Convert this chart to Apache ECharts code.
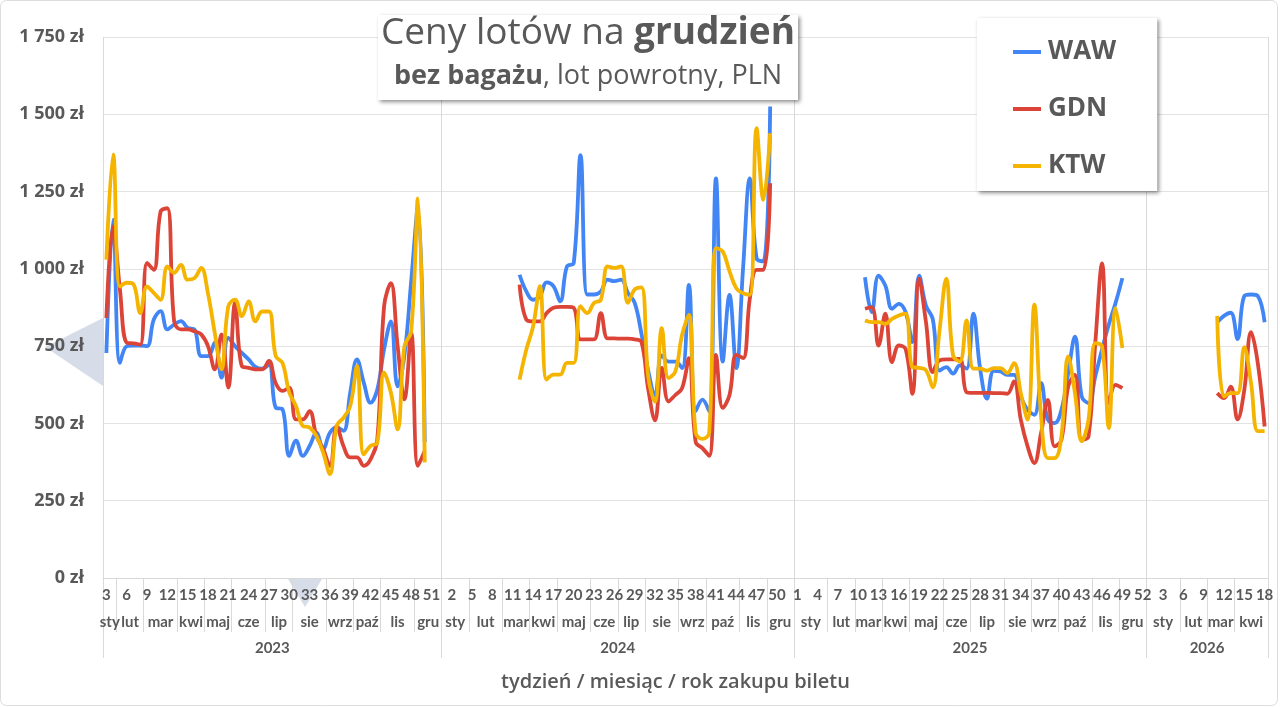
<!DOCTYPE html>
<html>
<head>
<meta charset="utf-8">
<script src="https://cdn.jsdelivr.net/npm/echarts@6/dist/echarts.min.js"></script>
<style>
html, body { margin: 0; padding: 0; background: #fff; }
#chart { width: 1280px; height: 707px; }
</style>
</head>
<body>
<div id="chart"></div>
<script>
// lata i zakres tygodni na osi
var years = [2023, 2024, 2025, 2026];
var firstWeek = [3, 1, 1, 1];
var lastWeek = [52, 52, 52, 18];

// miesiace - ile tygodni w kazdym miesiacu (wg czwartku tygodnia ISO)
var monthNames = ['sty', 'lut', 'mar', 'kwi', 'maj', 'cze', 'lip', 'sie', 'wrz', 'paź', 'lis', 'gru'];
var monthWeeks2023 = [2, 4, 5, 4, 4, 5, 4, 5, 4, 4, 5, 4];
var monthWeeks2024 = [4, 5, 4, 4, 5, 4, 4, 5, 4, 5, 4, 4];
var monthWeeks2025 = [5, 4, 4, 4, 5, 4, 5, 4, 4, 5, 4, 4];
var monthWeeks2026 = [5, 4, 4, 5];

var N = null;
// WAW
var waw2023 = [728,1159,696,750,752,752,750,836,863,804,820,831,809,804,718,718,761,648,777,750,728,707,683,677,690,551,546,395,444,395,427,470,417,470,487,476,600,707,632,567,610,740,830,620,720,960,1200,440,N,N];
var waw2024 = [N,N,N,N,N,N,N,N,N,N,N,981,927,900,911,956,944,895,1008,1019,1368,917,917,927,965,960,965,922,890,790,670,590,720,700,700,679,948,540,577,539,1293,700,916,679,1002,1293,1034,1024,1525,N,N,N];
var waw2025 = [N,N,N,N,N,N,N,N,N,N,973,860,978,946,871,887,860,763,978,881,838,671,682,661,688,677,855,677,580,670,668,657,657,587,544,528,630,512,501,544,663,781,587,566,652,740,820,890,970,N,N,N];
var waw2026 = [N,N,N,N,N,N,N,N,N,N,827,848,858,773,912,917,912,827];
// GDN
var gdn2023 = [841,1137,933,761,759,755,1019,997,1185,1196,831,804,804,798,788,750,675,788,616,890,685,680,675,675,702,630,605,616,513,513,540,460,417,363,492,427,390,390,363,384,449,879,954,750,578,793,363,411,N,N];
var gdn2024 = [N,N,N,N,N,N,N,N,N,N,N,949,836,830,830,857,874,877,877,874,772,772,772,857,775,775,774,774,772,763,610,510,680,571,592,614,711,440,420,395,722,550,592,722,711,905,997,997,1277,N,N,N];
var gdn2025 = [N,N,N,N,N,N,N,N,N,N,871,876,752,855,698,752,741,596,968,828,666,704,707,707,709,601,599,599,599,598,598,596,636,512,426,372,469,576,426,447,620,657,447,458,760,1018,566,625,614,N,N,N];
var gdn2026 = [N,N,N,N,N,N,N,N,N,N,598,582,619,513,608,795,694,490];
// KTW
var ktw2023 = [1030,1370,943,955,950,857,943,922,900,1008,987,1013,965,970,1003,920,793,675,879,900,847,895,830,862,862,718,696,600,556,492,487,460,406,336,492,518,556,685,400,427,438,664,600,481,750,798,1228,374,N,N];
var ktw2024 = [N,N,N,N,N,N,N,N,N,N,N,642,739,814,944,642,658,658,696,696,879,857,890,900,1008,1003,1008,890,933,940,650,570,808,647,668,787,851,470,450,470,1067,1056,992,937,921,916,1455,1223,1439,N,N,N];
var ktw2025 = [N,N,N,N,N,N,N,N,N,N,833,828,828,822,838,849,855,682,680,672,617,800,968,720,700,833,677,677,671,679,679,663,695,598,512,884,523,388,388,458,717,598,442,512,760,749,485,873,744,N,N,N];
var ktw2026 = [N,N,N,N,N,N,N,N,N,N,848,587,598,598,747,630,475,475];

var waw = waw2023.concat(waw2024, waw2025, waw2026);
var gdn = gdn2023.concat(gdn2024, gdn2025, gdn2026);
var ktw = ktw2023.concat(ktw2024, ktw2025, ktw2026);

// kategorie: rok-tydzien
var categories = [];
years.forEach(function (y, k) {
  for (var w = firstWeek[k]; w <= lastWeek[k]; w++) categories.push(y + '-' + w);
});
var total = categories.length;

// granice i srodki miesiecy / lat (w jednostkach kategorii)
var monthTicks = [0], monthCenters = [], monthLabel = {};
var yearTicks = [0], yearCenters = [], yearLabel = {};
var pos = 0;
[monthWeeks2023, monthWeeks2024, monthWeeks2025, monthWeeks2026].forEach(function (arr, k) {
  var start = pos;
  arr.forEach(function (n, m) {
    var c = pos + n / 2;
    monthCenters.push(c);
    monthLabel[String(c)] = monthNames[m];
    pos += n;
    monthTicks.push(pos);
  });
  var yc = (start + pos) / 2;
  yearCenters.push(yc);
  yearLabel[String(yc)] = String(years[k]);
  yearTicks.push(pos);
});

var font = 'Open Sans';
var axisFont = 'Lato';
var grey = '#595959';
var lineGrey = '#d9d9d9';

var myChart = echarts.init(document.getElementById('chart'));
var option = {
  animation: false,
  color: ['#4285f4', '#db4437', '#f4b400'],
  textStyle: { fontFamily: font },
  title: {
    left: 585,
    top: 15,
    textAlign: 'center',
    text: '{n|Ceny lotów na }{b|grudzień}',
    subtext: '{b|bez bagażu}{n|, lot powrotny, PLN}',
    itemGap: 11,
    padding: [0, 3, 10, 3],
    backgroundColor: '#fff',
    shadowBlur: 4,
    shadowColor: 'rgba(0,0,0,0.45)',
    shadowOffsetX: 2,
    shadowOffsetY: 2,
    textStyle: {
      fontWeight: 'normal',
      rich: {
        n: { fontSize: 37, color: grey, fontFamily: font, fontWeight: 'normal' },
        b: { fontSize: 37, color: grey, fontFamily: font, fontWeight: 'bold' }
      }
    },
    subtextStyle: {
      fontWeight: 'normal',
      rich: {
        n: { fontSize: 27, color: grey, fontFamily: font, fontWeight: 'normal' },
        b: { fontSize: 27, color: grey, fontFamily: font, fontWeight: 'bold' }
      }
    }
  },
  legend: {
    left: 977,
    top: 18,
    orient: 'vertical',
    icon: 'rect',
    itemWidth: 28,
    itemHeight: 4,
    itemGap: 27,
    padding: [19, 41, 10, 36],
    backgroundColor: '#fff',
    shadowBlur: 4,
    shadowColor: 'rgba(0,0,0,0.45)',
    shadowOffsetX: 2,
    shadowOffsetY: 2,
    textStyle: { fontSize: 26, fontWeight: 'bold', color: grey, lineHeight: 30, fontFamily: font, padding: [0, 0, 0, 2] },
    data: ['WAW', 'GDN', 'KTW']
  },
  grid: {
    left: 103,
    right: 12,
    top: 37,
    bottom: 129
  },
  xAxis: [
    { // tygodnie
      type: 'category',
      position: 'bottom',
      data: categories,
      boundaryGap: true,
      axisLine: { show: true, lineStyle: { color: lineGrey } },
      axisTick: { show: false },
      axisLabel: {
        interval: function (index) { return index % 3 === 0; },
        formatter: function (v) { return v.split('-')[1]; },
        margin: 10,
        fontSize: 15,
        fontWeight: 'bold',
        fontFamily: axisFont,
        color: grey
      },
      splitLine: { show: false },
      name: 'tydzień / miesiąc / rok zakupu biletu',
      nameLocation: 'middle',
      nameGap: 94,
      nameTextStyle: { fontSize: 20, fontWeight: 600, color: grey, padding: [0, 20, 0, 0] }
    },
    { // miesiace
      type: 'value',
      position: 'bottom',
      min: 0,
      max: total,
      axisLine: { show: false },
      axisTick: { show: true, length: 54, customValues: monthTicks, lineStyle: { color: lineGrey } },
      axisLabel: {
        customValues: monthCenters,
        formatter: function (v) { return monthLabel[String(v)] || ''; },
        margin: 37,
        fontSize: 15,
        fontWeight: 'bold',
        fontFamily: axisFont,
        color: grey
      },
      splitLine: { show: false }
    },
    { // lata
      type: 'value',
      position: 'bottom',
      min: 0,
      max: total,
      axisLine: { show: false },
      axisTick: { show: true, length: 80, customValues: yearTicks, lineStyle: { color: lineGrey } },
      axisLabel: {
        customValues: yearCenters,
        formatter: function (v) { return yearLabel[String(v)] || ''; },
        margin: 63,
        fontSize: 15,
        fontWeight: 'bold',
        fontFamily: axisFont,
        color: grey
      },
      splitLine: { show: true, lineStyle: { color: lineGrey } }
    }
  ],
  yAxis: [{
    type: 'value',
    min: 0,
    max: 1750,
    interval: 250,
    axisLine: { show: false },
    axisTick: { show: false },
    axisLabel: {
      margin: 19,
      fontSize: 18,
      fontWeight: 'bold',
      color: grey,
      formatter: function (v) {
        var s = String(v);
        if (v >= 1000) s = s.slice(0, s.length - 3) + ' ' + s.slice(-3);
        return s + ' zł';
      }
    },
    splitLine: { show: true, lineStyle: { color: '#e3e3e3' } }
  }],
  graphic: [
    { type: 'polygon', z: -10, silent: true, shape: { points: [[103, 318], [45, 347], [103, 386]] }, style: { fill: '#d6dde9' } },
    { type: 'polygon', z: -10, silent: true, shape: { points: [[288, 579], [322, 579], [305, 607]] }, style: { fill: '#d6dde9' } },
    { type: 'rect', z: -10, silent: true, shape: { x: 0.5, y: 0.5, width: 1277, height: 705, r: 6 }, style: { fill: 'none', stroke: '#dcdcdc', lineWidth: 1 } }
  ],
  series: [
    { name: 'WAW', type: 'line', data: waw, smooth: 0.4, symbol: 'none', connectNulls: false, lineStyle: { width: 3.8 } },
    { name: 'GDN', type: 'line', data: gdn, smooth: 0.4, symbol: 'none', connectNulls: false, lineStyle: { width: 3.8 } },
    { name: 'KTW', type: 'line', data: ktw, smooth: 0.4, symbol: 'none', connectNulls: false, lineStyle: { width: 3.8 } }
  ]
};
myChart.setOption(option);
</script>
</body>
</html>
